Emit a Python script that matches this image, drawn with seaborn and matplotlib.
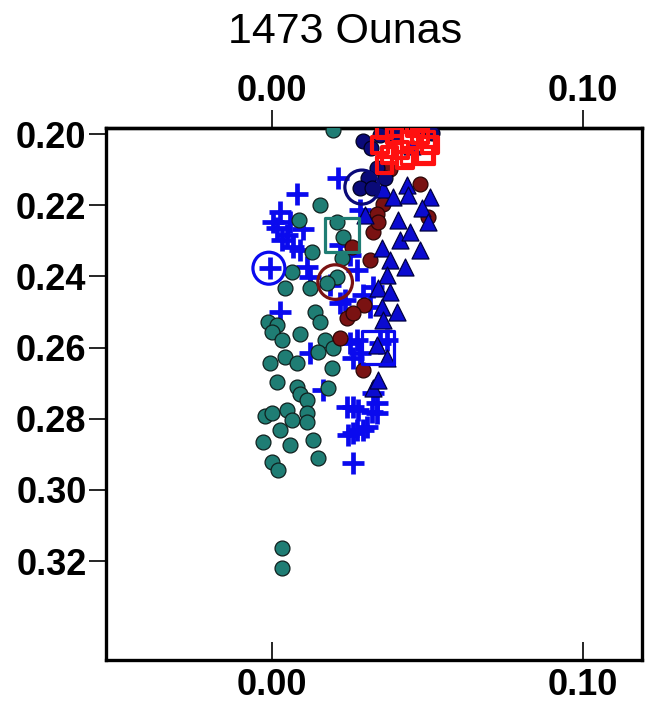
import matplotlib
matplotlib.use("Agg")
import matplotlib.pyplot as plt
import seaborn as sns
import pandas as pd

sns.set_style("white")
plt.rcParams['font.family'] = ['Liberation Sans', 'DejaVu Sans']
plt.rcParams['text.color'] = 'black'
plt.rcParams['xtick.color'] = 'black'
plt.rcParams['ytick.color'] = 'black'
plt.rcParams['axes.labelcolor'] = 'black'

title = "1473 Ounas"
xticks = [0.00, 0.10]
xtick_labels = ["0.00", "0.10"]
yticks = [0.20, 0.22, 0.24, 0.26, 0.28, 0.30, 0.32]
ytick_labels = ["0.20", "0.22", "0.24", "0.26", "0.28", "0.30", "0.32"]
xlim = (-0.0534, 0.119)
ylim = (0.3478, 0.1983)

teal_x = [0.0196, 0.0154, 0.0087, 0.0209, 0.0228, 0.0129, 0.0225, 0.0064, 0.0209, 0.0177,
          0.0042, 0.0122, 0.0138, 0.0154, -0.0013, 0.0016, 0.0000, 0.0032, 0.0090, 0.0170,
          0.0196, 0.0148, -0.0006, 0.0042, 0.0080, 0.0193, 0.0016, 0.0080, 0.0090, 0.0113,
          0.0180, -0.0023, 0.0000, 0.0048, 0.0064, 0.0113, 0.0113, 0.0026, -0.0029, 0.0058,
          0.0132, 0.0148, 0.0000, 0.0019, 0.0032, 0.0032]
teal_y = [0.1989, 0.2200, 0.2242, 0.2247, 0.2289, 0.2332, 0.2349, 0.2388, 0.2402, 0.2419,
          0.2433, 0.2433, 0.2500, 0.2528, 0.2528, 0.2537, 0.2556, 0.2579, 0.2562, 0.2579,
          0.2601, 0.2613, 0.2644, 0.2627, 0.2644, 0.2658, 0.2697, 0.2711, 0.2731, 0.2748,
          0.2714, 0.2793, 0.2784, 0.2776, 0.2804, 0.2784, 0.2809, 0.2832, 0.2866, 0.2874,
          0.2860, 0.2911, 0.2922, 0.2944, 0.3164, 0.3220]

plus_x = [0.0212, 0.0080, 0.0026, 0.0003, 0.0058, 0.0100, 0.0016, 0.0048, 0.0032, -0.0006,
          0.0090, 0.0068, 0.0113, 0.0026, 0.0122, 0.0122, 0.0164, 0.0219, 0.0315, 0.0293,
          0.0325, 0.0251, 0.0260, 0.0273, 0.0347, 0.0370, 0.0283, 0.0338, 0.0260, 0.0325,
          0.0338, 0.0241, 0.0277, 0.0322, 0.0273, 0.0244, 0.0305, 0.0293, 0.0260, 0.0260,
          0.0283, 0.0219, 0.0251, 0.0273, 0.0186, 0.0235]
plus_y = [0.2124, 0.2169, 0.2219, 0.2247, 0.2247, 0.2267, 0.2264, 0.2284, 0.2298, 0.2377,
          0.2326, 0.2318, 0.2374, 0.2500, 0.2402, 0.2616, 0.2720, 0.2475, 0.2486, 0.2453,
          0.2430, 0.2587, 0.2630, 0.2579, 0.2587, 0.2579, 0.2616, 0.2756, 0.2767, 0.2728,
          0.2784, 0.2767, 0.2776, 0.2781, 0.2832, 0.2846, 0.2823, 0.2832, 0.2840, 0.2925,
          0.2214, 0.2312, 0.2340, 0.2382, 0.2424, 0.2467]

tri_x = [0.0450, 0.0357, 0.0434, 0.0389, 0.0437, 0.0508, 0.0482, 0.0405, 0.0502, 0.0354,
         0.0379, 0.0428, 0.0370, 0.0341, 0.0379, 0.0354, 0.0402, 0.0357, 0.0338, 0.0370,
         0.0325, 0.0341, 0.0412, 0.0444, 0.0476, 0.0299]
tri_y = [0.2034, 0.2155, 0.2143, 0.2177, 0.2171, 0.2177, 0.2208, 0.2242, 0.2247, 0.2320,
         0.2354, 0.2374, 0.2396, 0.2433, 0.2444, 0.2486, 0.2500, 0.2523, 0.2593, 0.2630,
         0.2714, 0.2691, 0.2298, 0.2275, 0.2326, 0.2228]

dred_x = [0.0379, 0.0476, 0.0357, 0.0338, 0.0325, 0.0257, 0.0315, 0.0296, 0.0241, 0.0219,
          0.0293, 0.0502, 0.0260, 0.0341]
dred_y = [0.2098, 0.2141, 0.2197, 0.2225, 0.2275, 0.2318, 0.2354, 0.2481, 0.2517, 0.2573,
          0.2663, 0.2233, 0.2503, 0.2247]

navy_x = [0.0293, 0.0318, 0.0338, 0.0309, 0.0283, 0.0322, 0.0363, 0.0395, 0.0514, 0.0469, 0.0347]
navy_y = [0.2020, 0.2039, 0.2096, 0.2124, 0.2152, 0.2152, 0.2124, 0.2003, 0.1997, 0.1980, 0.2003]

red_x = [0.0363, 0.0395, 0.0347, 0.0379, 0.0412, 0.0444, 0.0476, 0.0363, 0.0428, 0.0492,
         0.0508, 0.0395, 0.0460]
red_y = [0.1989, 0.2003, 0.2031, 0.2059, 0.2045, 0.2017, 0.2003, 0.2087, 0.2073, 0.2059,
         0.2031, 0.1983, 0.1983]

# summary (large open) markers
mean_groups = ["teal", "darkred", "blue", "navy", "bluesq", "red"]
mean_x = [0.0225, 0.0203, -0.0010, 0.0289, 0.0341, 0.0469]
mean_y = [0.2284, 0.2416, 0.2377, 0.2149, 0.2599, 0.2039]

C_TEAL = "#1f7d74"
C_BLUE = "#0a0aee"
C_TRI = "#0b0bd0"
C_DRED = "#7a1212"
C_NAVY = "#0a0a78"
C_RED = "#ff1010"

fig = plt.figure(figsize=(6.47, 7.06), dpi=100)
ax = fig.add_axes([106/647, 1-660/706, (642-106)/647, (660-128)/706])

sns.scatterplot(x=plus_x, y=plus_y, ax=ax, marker="+", s=260, color=C_BLUE,
                linewidth=3.4, zorder=2)
sns.scatterplot(x=teal_x, y=teal_y, ax=ax, marker="o", s=115, color=C_TEAL,
                edgecolor="#10201e", linewidth=0.9, zorder=3)
sns.scatterplot(x=dred_x, y=dred_y, ax=ax, marker="o", s=115, color=C_DRED,
                edgecolor="#2a0505", linewidth=0.9, zorder=4)
sns.scatterplot(x=tri_x, y=tri_y, ax=ax, marker="^", s=150, color=C_TRI,
                edgecolor="#000040", linewidth=0.9, zorder=5)
sns.scatterplot(x=navy_x, y=navy_y, ax=ax, marker="o", s=115, color=C_NAVY,
                edgecolor="#000020", linewidth=0.9, zorder=6)
sns.scatterplot(x=red_x, y=red_y, ax=ax, marker="s", s=120, color="none",
                edgecolor=C_RED, linewidth=3.0, zorder=7)

mean_markers = {"teal": ("s", C_TEAL, 600), "darkred": ("o", C_DRED, 620),
                "blue": ("o", C_BLUE, 530), "navy": ("o", C_NAVY, 600),
                "bluesq": ("s", C_BLUE, 560), "red": ("s", C_RED, 560)}
for g, mx, my in zip(mean_groups, mean_x, mean_y):
    mk, col, sz = mean_markers[g]
    sns.scatterplot(x=[mx], y=[my], ax=ax, marker=mk, s=sz, color="none",
                    edgecolor=col, linewidth=2.3, zorder=8)

ax.set_xlim(*xlim)
ax.set_ylim(*ylim)
ax.set_xticks(xticks)
ax.set_xticklabels(xtick_labels)
ax.set_yticks(yticks)
ax.set_yticklabels(ytick_labels)
ax.set_xlabel("")
ax.set_ylabel("")

ax.tick_params(axis="x", direction="in", length=13, width=1.2, pad=6,
               bottom=True, top=False, labelsize=26, colors="black")
ax.tick_params(axis="y", direction="out", length=12, width=1.2, pad=2,
               left=True, right=False, labelsize=26, colors="black")
for lab in ax.get_xticklabels() + ax.get_yticklabels():
    lab.set_fontweight("bold")

sec = ax.secondary_xaxis("top")
sec.set_xticks(xticks)
sec.set_xticklabels(xtick_labels)
sec.tick_params(axis="x", direction="out", length=13, width=1.2, pad=1,
                labelsize=26, colors="black")
for lab in sec.get_xticklabels():
    lab.set_fontweight("bold")
sec.spines["top"].set_linewidth(2.4)
sec.spines["top"].set_color("black")

for sp in ax.spines.values():
    sp.set_visible(True)
    sp.set_linewidth(2.4)
    sp.set_color("black")

fig.text(345/647, 1-43/706, title, ha="center", va="baseline", fontsize=31,
         color="black")

fig.savefig("out.png", dpi=100, facecolor="white")
